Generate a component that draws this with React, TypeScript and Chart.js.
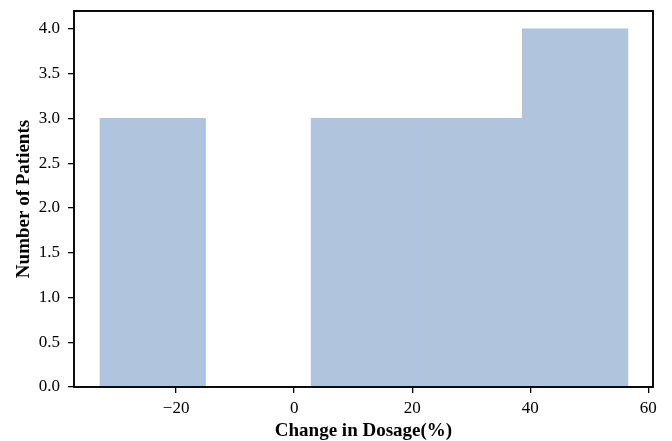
import React, { useEffect, useRef } from 'react';
import { Chart, registerables } from 'chart.js';

Chart.register(...registerables);

// Histogram data
const binEdges = [-32.9, -15.01, 2.88, 20.77, 38.66, 56.54];
const counts = [3, 0, 3, 3, 4];
const xTicks = [-20, 0, 20, 40, 60];
const yTicks = [0, 0.5, 1, 1.5, 2, 2.5, 3, 3.5, 4];
const xTitle = 'Change in Dosage(%)';
const yTitle = 'Number of Patients';

const FONT = "'Liberation Serif', 'Times New Roman', serif";

const framePlugin = {
  id: 'frame',
  afterDraw(chart: any) {
    const { ctx, chartArea } = chart;
    const { left, top, right, bottom } = chartArea;
    ctx.save();
    ctx.strokeStyle = '#000';
    ctx.lineWidth = 1.9;
    ctx.strokeRect(left, top, right - left, bottom - top);
    ctx.restore();
  },
};

export default function App() {
  const ref = useRef<HTMLCanvasElement | null>(null);

  useEffect(() => {
    document.body.style.margin = '0';
    if (!ref.current) return;
    const points = counts.map((c, i) => ({ x: (binEdges[i] + binEdges[i + 1]) / 2, y: c }));
    const chart = new Chart(ref.current, {
      type: 'bar',
      data: {
        datasets: [
          {
            data: points as any,
            backgroundColor: '#B0C4DE',
            borderWidth: 0,
            barPercentage: 1,
            categoryPercentage: 1,
          },
        ],
      },
      options: {
        animation: false,
        responsive: true,
        maintainAspectRatio: false,
        layout: { padding: { top: 11, right: 19, left: 0, bottom: 0 } },
        plugins: { legend: { display: false }, tooltip: { enabled: false } },
        scales: {
          x: {
            type: 'linear',
            min: -37.3,
            max: 60.8,
            offset: false,
            afterBuildTicks: (s: any) => {
              s.ticks = xTicks.map((v) => ({ value: v }));
            },
            afterFit: (s: any) => {
              s.height = 54;
              s.paddingLeft = 0;
              s.paddingRight = 0;
            },
            grid: {
              display: true,
              offset: false,
              drawOnChartArea: false,
              drawTicks: true,
              tickLength: 6,
              color: '#000',
              lineWidth: 1.3,
            },
            border: { display: false },
            ticks: {
              color: '#000',
              padding: 5,
              maxRotation: 0,
              autoSkip: false,
              font: { family: FONT, size: 17 },
              callback: (v: any) => (Number(v) < 0 ? '\u2212' + Math.abs(Number(v)) : String(v)),
            },
            title: {
              display: true,
              text: xTitle,
              color: '#000',
              font: { family: FONT, size: 19, weight: 'bold', lineHeight: 1 },
              padding: { top: 0, bottom: 0 },
            },
          },
          y: {
            type: 'linear',
            min: 0,
            max: 4.2,
            afterBuildTicks: (s: any) => {
              s.ticks = yTicks.map((v) => ({ value: v }));
            },
            afterFit: (s: any) => {
              s.width = 74;
              s.paddingTop = 0;
              s.paddingBottom = 0;
            },
            grid: {
              display: true,
              drawOnChartArea: false,
              drawTicks: true,
              tickLength: 6,
              color: '#000',
              lineWidth: 1.3,
            },
            border: { display: false },
            ticks: {
              color: '#000',
              padding: 8,
              autoSkip: false,
              font: { family: FONT, size: 17 },
              callback: (v: any) => Number(v).toFixed(1),
            },
            title: {
              display: true,
              text: yTitle,
              color: '#000',
              font: { family: FONT, size: 19, weight: 'bold', lineHeight: 1 },
              padding: { top: 15, bottom: 0 },
            },
          },
        },
      },
      plugins: [framePlugin],
    });
    return () => chart.destroy();
  }, []);

  return (
    <div style={{ position: 'relative', width: 672, height: 441 }}>
      <canvas ref={ref} />
    </div>
  );
}
